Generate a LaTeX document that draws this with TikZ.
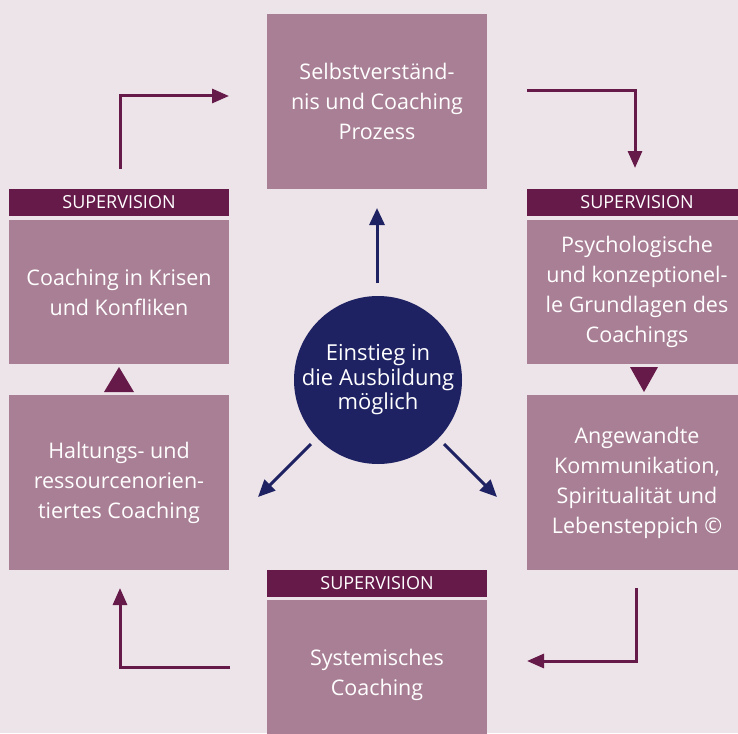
\documentclass[tikz,border=0pt]{standalone}
\usepackage{fontspec}
\setmainfont{Open Sans}
\usetikzlibrary{arrows.meta}
\definecolor{bgc}{HTML}{EDE4E9}
\definecolor{boxc}{HTML}{A97F95}
\definecolor{supc}{HTML}{661A4A}
\definecolor{navyc}{HTML}{1E2263}
\tikzset{
  pbox/.style={fill=boxc, text=white, inner sep=0pt, minimum width=220pt, align=center,
    font=\fontsize{21.5}{30}\selectfont},
  supbar/.style={fill=supc, text=white, inner sep=0pt, minimum width=220pt, minimum height=27pt,
    font=\fontsize{18}{18}\selectfont},
  oarrow/.style={draw=supc, line width=3pt, -{Triangle[length=17pt,width=14pt]}},
  iarrow/.style={draw=navyc, line width=3pt, -{Triangle[length=17pt,width=15pt]}},
}
\begin{document}
\begin{tikzpicture}[x=1pt,y=-1pt]
\fill[bgc] (0,0) rectangle (738,733);
\useasboundingbox (0,0) rectangle (738,733);

% boxes
\node[pbox, minimum height=175pt] (top) at (377,101.5) {Selbstverständ-\\nis und Coaching\\Prozess};
\node[supbar] (supL) at (119,202.5) {SUPERVISION};
\node[pbox, minimum height=144pt] (left1) at (119,292) {Coaching in Krisen\\und Konfliken};
\node[pbox, minimum height=175pt] (left2) at (119,482.5) {Haltungs- und\\ressourcenorien-\\tiertes Coaching};
\node[supbar] (supR) at (637,202.5) {SUPERVISION};
\node[pbox, minimum height=144pt] (right1) at (637,292) {Psychologische\\und konzeptionel-\\le Grundlagen des\\Coachings};
\node[pbox, minimum height=175pt] (right2) at (637,482.5) {Angewandte\\Kommunikation,\\Spiritualität und\\Lebensteppich ©};
\node[supbar] (supB) at (377,583.5) {SUPERVISION};
\node[pbox, minimum height=150pt] (bottom) at (377,675) {Systemisches\\Coaching};

% circle
\node[circle, fill=navyc, text=white, minimum size=168pt, inner sep=0pt, align=center,
  font=\fontsize{22}{24.5}\selectfont] (circ) at (378,380) {Einstieg in\\die Ausbildung\\möglich};

% triangles
\fill[supc] (104,392) -- (134,392) -- (119,367) -- cycle;
\fill[supc] (630,367) -- (658,367) -- (644,392) -- cycle;

% outer arrows
\coordinate (a1s) at (120,169);
\coordinate (a1e) at (229,96);
\draw[oarrow] (a1s) |- (a1e);
\coordinate (a2s) at (527,91);
\coordinate (a2e) at (635,168);
\draw[oarrow] (a2s) -| (a2e);
\coordinate (a3s) at (636,588);
\coordinate (a3e) at (527,661);
\draw[oarrow] (a3s) |- (a3e);
\coordinate (a4s) at (230,667);
\coordinate (a4e) at (120,588);
\draw[oarrow] (a4s) -| (a4e);

% inner arrows
\coordinate (iu) at (377,208);
\coordinate (ius) at (377,283);
\draw[iarrow] (ius) -- (iu);
\coordinate (ils) at (311,444);
\coordinate (ile) at (258,497);
\draw[iarrow] (ils) -- (ile);
\coordinate (irs) at (444,444);
\coordinate (ire) at (497,497);
\draw[iarrow] (irs) -- (ire);
\end{tikzpicture}
\end{document}
